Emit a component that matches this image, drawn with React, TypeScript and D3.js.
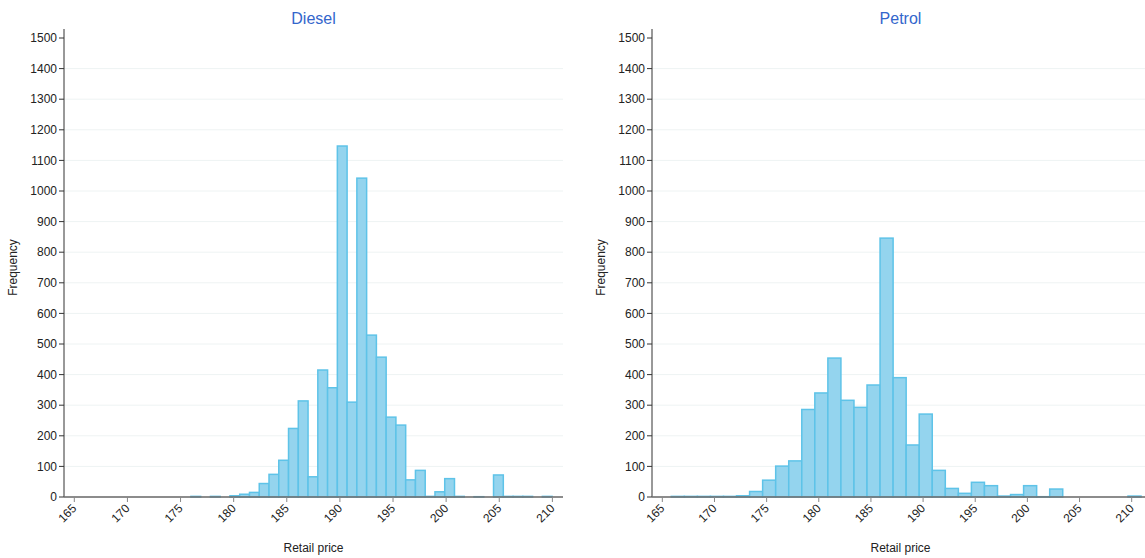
import React from "react";
import * as d3 from "d3";

// histogram counts, one per bin
const dieselCounts = [
  0, 0, 0, 0, 0, 0, 0, 0, 0, 0, 0, 0, 0, 2, 0, 2, 0, 4, 9, 15, 44, 74, 120, 224,
  314, 66, 415, 357, 1147, 310, 1042, 529, 457, 261, 235, 56, 87, 2, 17, 60, 2,
  0, 1, 0, 72, 2, 2, 2, 0, 2, 0,
];
const dieselBinStart = 164.03;
const dieselBinWidth = 0.9189;

const petrolCounts = [
  2, 2, 2, 2, 2, 4, 18, 55, 101, 118, 286, 340, 454, 316, 293, 366, 846, 390,
  170, 271, 87, 28, 12, 48, 37, 3, 8, 37, 1, 26, 0, 0, 0, 0, 0, 3,
];
const petrolBinStart = 165.86;
const petrolBinWidth = 1.251;

const yTicks = d3.range(0, 1501, 100);
const xTicks = [165, 170, 175, 180, 185, 190, 195, 200, 205, 210];

const FONT = "'Liberation Sans', Arial, sans-serif";

type HistProps = {
  title: string;
  counts: number[];
  binStart: number;
  binWidth: number;
  domain: [number, number];
  left: number;
  right: number;
};

const Histogram: React.FC<HistProps> = ({
  title,
  counts,
  binStart,
  binWidth,
  domain,
  left,
  right,
}) => {
  const top = 38;
  const bottom = 497;
  const x = d3.scaleLinear().domain(domain).range([left, right]);
  const y = d3.scaleLinear().domain([0, 1500]).range([bottom, top]);
  const cx = (left + right) / 2;

  return (
    <g>
      <text
        x={cx}
        y={24}
        textAnchor="middle"
        fill="#3366cc"
        fontSize={16}
        fontFamily={FONT}
      >
        {title}
      </text>

      {yTicks
        .filter((t) => t > 0 && t < 1500)
        .map((t) => (
          <line
            key={"g" + t}
            x1={left}
            x2={right}
            y1={y(t)}
            y2={y(t)}
            stroke="#eef3f3"
            strokeWidth={1}
          />
        ))}

      {counts.map((c, i) => {
        if (c <= 0) return null;
        const x0 = x(binStart + i * binWidth);
        const x1 = x(binStart + (i + 1) * binWidth);
        return (
          <rect
            key={i}
            x={x0}
            y={y(c)}
            width={x1 - x0}
            height={bottom - y(c)}
            fill="#94d4ee"
            stroke="#5ec3e8"
            strokeWidth={1.5}
          />
        );
      })}

      {/* y axis */}
      <line x1={left} x2={left} y1={29} y2={bottom} stroke="#333" strokeWidth={1} />
      {yTicks.map((t) => (
        <g key={"y" + t}>
          <line x1={left - 5} x2={left} y1={y(t)} y2={y(t)} stroke="#333" />
          <text
            x={left - 7}
            y={y(t)}
            dy="0.35em"
            textAnchor="end"
            fontSize={12}
            fill="#222"
            fontFamily={FONT}
          >
            {t}
          </text>
        </g>
      ))}
      <text
        transform={`translate(${left - 47},${(top + bottom) / 2}) rotate(-90)`}
        textAnchor="middle"
        fontSize={12}
        fill="#222"
        fontFamily={FONT}
      >
        Frequency
      </text>

      {/* x axis */}
      <line
        x1={left}
        x2={right}
        y1={bottom}
        y2={bottom}
        stroke="#6f6f6f"
        strokeOpacity={0.8}
        strokeWidth={2}
      />
      {xTicks.map((t) => (
        <g key={"x" + t}>
          <line x1={x(t)} x2={x(t)} y1={bottom} y2={bottom + 5} stroke="#888" />
          <text
            transform={`translate(${x(t) + 3},${bottom + 12}) rotate(-45)`}
            textAnchor="end"
            fontSize={12}
            fill="#222"
            fontFamily={FONT}
          >
            {t}
          </text>
        </g>
      ))}
      <text
        x={cx}
        y={552}
        textAnchor="middle"
        fontSize={12}
        fill="#222"
        fontFamily={FONT}
      >
        Retail price
      </text>
    </g>
  );
};

export default function App() {
  return (
    <svg
      width={1145}
      height={558}
      style={{ position: "absolute", left: 0, top: 0, background: "#fff" }}
    >
      <Histogram
        title="Diesel"
        counts={dieselCounts}
        binStart={dieselBinStart}
        binWidth={dieselBinWidth}
        domain={[164.03, 211.0]}
        left={64}
        right={563}
      />
      <Histogram
        title="Petrol"
        counts={petrolCounts}
        binStart={petrolBinStart}
        binWidth={petrolBinWidth}
        domain={[164.01, 211.66]}
        left={652}
        right={1149}
      />
    </svg>
  );
}
